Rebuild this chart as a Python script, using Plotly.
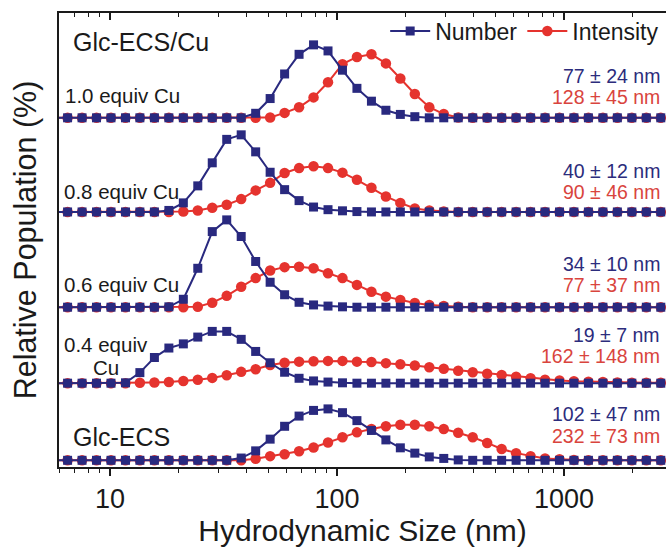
import plotly.graph_objects as go

# Hydrodynamic size bins (nm), Malvern-style log-spaced classes
sizes = [5.615, 6.503, 7.531, 8.721, 10.1, 11.7, 13.54, 15.69, 18.17, 21.04,
         24.36, 28.21, 32.67, 37.84, 43.82, 50.75, 58.77, 68.06, 78.82, 91.28,
         105.7, 122.4, 141.8, 164.2, 190.1, 220.2, 255.0, 295.3, 342.0, 396.1,
         458.7, 531.2, 615.1, 712.4, 825.0, 955.4, 1106, 1281, 1484, 1718,
         1990, 2305, 2669]

samples = ["Glc-ECS", "0.4 equiv Cu", "0.6 equiv Cu", "0.8 equiv Cu", "1.0 equiv Cu"]
offsets = [0, 20.4, 40.5, 65.7, 90.6]   # vertical stacking offset (%)

number_glc = [0]*13 + [0.6, 2.5, 5.6, 9.0, 11.7, 13.2, 13.6, 12.6, 10.5, 7.9, 5.4, 3.3,
                       1.9, 0.9, 0.5, 0.1] + [0]*14
intensity_glc = [0]*14 + [0.4, 1.1, 1.6, 2.4, 3.4, 4.7, 6.1, 7.4, 8.3, 9.0, 9.4, 9.4, 9.0,
                          8.3, 7.3, 6.1, 4.6, 3.0, 1.9, 1.1, 0.5, 0.3, 0.1] + [0]*6

number_04 = [0]*5 + [0.1, 2.8, 6.8, 9.3, 10.4, 12.2, 13.7, 13.7, 11.6, 8.4, 5.4, 2.9, 1.3,
                     0.6, 0.3, 0.1] + [0]*22
intensity_04 = [0]*6 + [0.1, 0.2, 0.3, 0.6, 0.9, 1.4, 2.1, 3.0, 3.7, 4.8, 5.4, 5.7, 5.8, 5.9,
                        5.9, 5.7, 5.6, 5.3, 5.0, 4.7, 4.2, 3.8, 3.3, 2.9, 2.5, 2.2, 1.7, 1.3,
                        0.9, 0.7, 0.5, 0.4, 0.3, 0.2, 0.1, 0.1, 0.1]

number_06 = [0]*8 + [0.1, 2.1, 10.3, 20.0, 23.1, 18.7, 12.1, 6.6, 3.3, 1.3, 0.6, 0.3,
                     0.1] + [0]*22
intensity_06 = [0]*10 + [0.1, 1.2, 3.0, 5.4, 7.7, 9.7, 10.6, 10.7, 10.3, 9.0, 7.7, 5.9, 4.1,
                         2.8, 1.9, 1.1, 0.6, 0.3, 0.1] + [0]*14

number_08 = [0]*8 + [0.4, 2.4, 6.9, 13.0, 19.2, 20.4, 15.9, 10.5, 5.9, 3.0, 1.3, 0.6, 0.3,
                     0.1] + [0]*21
intensity_08 = [0]*9 + [0.1, 0.4, 1.1, 1.9, 3.4, 5.7, 7.7, 10.3, 11.6, 12.1, 11.6, 10.4, 8.5,
                        6.4, 4.1, 2.4, 0.9, 0.4, 0.1] + [0]*15

number_10 = [0]*14 + [1.2, 5.1, 11.6, 16.8, 19.3, 17.7, 12.6, 7.8, 4.4, 2.0, 0.9,
                      0.3] + [0]*17
intensity_10 = [0]*15 + [0.1, 1.3, 2.8, 5.4, 9.4, 14.2, 16.1, 16.8, 14.4, 10.4, 6.3, 2.8,
                         1.0, 0.1] + [0]*14

number_series = [number_glc, number_04, number_06, number_08, number_10]
intensity_series = [intensity_glc, intensity_04, intensity_06, intensity_08, intensity_10]

number_labels = ["102 ± 47 nm", "19 ± 7 nm", "34 ± 10 nm", "40 ± 12 nm", "77 ± 24 nm"]
intensity_labels = ["232 ± 73 nm", "162 ± 148 nm", "77 ± 37 nm", "90 ± 46 nm", "128 ± 45 nm"]

tick_vals = [10, 100, 1000]
tick_text = ["10", "100", "1000"]
minor_vals = [6, 7, 8, 9, 20, 30, 40, 50, 60, 70, 80, 90,
              200, 300, 400, 500, 600, 700, 800, 900, 2000]

BLUE = "#29297f"
RED = "#e5332e"
TBLUE = "#2c2c7c"
TRED = "#d9443d"
FONT = "Liberation Sans, Arial, sans-serif"

fig = go.Figure()

for i, (vals, off) in enumerate(zip(intensity_series, offsets)):
    fig.add_trace(go.Scatter(
        x=sizes, y=[off + v for v in vals], mode="lines+markers",
        name="Intensity", legendrank=2, showlegend=(i == 0),
        line=dict(color=RED, width=2),
        marker=dict(symbol="circle", size=10.5, color=RED)))

for i, (vals, off) in enumerate(zip(number_series, offsets)):
    fig.add_trace(go.Scatter(
        x=sizes, y=[off + v for v in vals], mode="lines+markers",
        name="Number", legendrank=1, showlegend=(i == 0),
        line=dict(color=BLUE, width=2),
        marker=dict(symbol="square", size=9, color=BLUE)))

# dummy trace for the top axis
fig.add_trace(go.Scatter(x=[10], y=[None], xaxis="x2", showlegend=False,
                         hoverinfo="skip", mode="markers"))

L, R, T, B = 59, 0, 13, 81
W, H = 666, 548
pw, ph = W - L - R, H - T - B

def px(xp):
    return (xp - L) / pw

def py(yp):
    return (H - B - yp) / ph

xrange = [0.7753, 3.4493]

fig.update_layout(
    width=W, height=H,
    margin=dict(l=L, r=R, t=T, b=B, pad=0),
    paper_bgcolor="white", plot_bgcolor="white",
    font=dict(family=FONT, color="#1a1a1a"),
    showlegend=True,
    legend=dict(orientation="h", x=0.997, xanchor="right", y=py(31), yanchor="middle",
                font=dict(size=23, color="#1a1a1a"), bgcolor="rgba(0,0,0,0)",
                itemwidth=40, tracegroupgap=0, traceorder="normal"),
    xaxis=dict(type="log", range=xrange, showgrid=False, zeroline=False,
               showline=True, linecolor="#1a1a1a", linewidth=2, mirror=True,
               ticks="outside", ticklen=7, tickwidth=1.5, tickcolor="#1a1a1a",
               tickmode="array", tickvals=tick_vals, ticktext=tick_text,
               tickfont=dict(size=27, color="#1a1a1a"),
               minor=dict(tickmode="array", tickvals=minor_vals, ticks="outside",
                          ticklen=4, tickwidth=1.2, tickcolor="#1a1a1a"),
               title=dict(text="Hydrodynamic Size (nm)", font=dict(size=30, color="#1a1a1a"),
                          standoff=0)),
    xaxis2=dict(type="log", range=xrange, overlaying="x", side="top", anchor="y",
                showgrid=False, zeroline=False, showline=False,
                ticks="inside", ticklen=7, tickwidth=1.5, tickcolor="#1a1a1a",
                tickmode="array", tickvals=tick_vals, showticklabels=False,
                minor=dict(tickmode="array", tickvals=minor_vals, ticks="inside",
                           ticklen=4, tickwidth=1.2, tickcolor="#1a1a1a")),
    yaxis=dict(range=[-1.77, 118.33], showgrid=False, zeroline=False,
               showline=True, linecolor="#1a1a1a", linewidth=2, mirror=False,
               ticks="", showticklabels=False,
               title=dict(text="Relative Population (%)", font=dict(size=30.5, color="#1a1a1a"),
                          standoff=11)),
)

ann = []
left_labels = [("Glc-ECS/Cu", 72, 42, 25), ("1.0 equiv Cu", 64, 96, 20.5),
               ("0.8 equiv Cu", 63, 191, 20.5), ("0.6 equiv Cu", 63, 284, 20.5),
               ("0.4 equiv", 63, 344, 20.5), ("Cu", 92, 367, 20.5), ("Glc-ECS", 72, 437, 25)]
for text, xp, yp, sz in left_labels:
    ann.append(dict(text=text, x=px(xp), y=py(yp), xref="paper", yref="paper",
                    xanchor="left", yanchor="middle", showarrow=False, borderpad=0,
                    font=dict(size=sz, color="#1a1a1a", family=FONT)))

num_y = [414, 335, 264, 171, 76]
int_y = [436, 356, 285, 192, 97]
for lab, yp in zip(number_labels, num_y):
    ann.append(dict(text=lab, x=px(661), y=py(yp), xref="paper", yref="paper",
                    xanchor="right", yanchor="middle", showarrow=False, borderpad=0,
                    font=dict(size=19.5, color=TBLUE, family=FONT)))
for lab, yp in zip(intensity_labels, int_y):
    ann.append(dict(text=lab, x=px(661), y=py(yp), xref="paper", yref="paper",
                    xanchor="right", yanchor="middle", showarrow=False, borderpad=0,
                    font=dict(size=19.5, color=TRED, family=FONT)))
fig.update_layout(annotations=ann)

fig.write_html("out.html", config={"displayModeBar": False},
               post_script="document.body.style.margin='0';document.body.style.overflow='hidden';")
